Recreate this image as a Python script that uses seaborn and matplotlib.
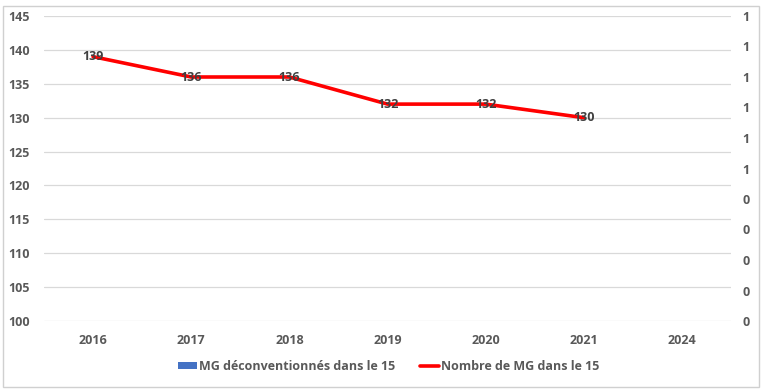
import matplotlib
matplotlib.use("Agg")
import matplotlib.pyplot as plt
import seaborn as sns
import numpy as np
from matplotlib.patches import Rectangle, Patch
from matplotlib.lines import Line2D

years = ["2016", "2017", "2018", "2019", "2020", "2021", "2024"]
nombre_mg = [139, 136, 136, 132, 132, 130]
deconv_mg = [0, 0, 0, 0, 0, 0, 0]
left_ticks = [100, 105, 110, 115, 120, 125, 130, 135, 140, 145]
right_ticks = [0.0, 0.1, 0.2, 0.3, 0.4, 0.5, 0.6, 0.7, 0.8, 0.9, 1.0]
right_labels = ["0", "0", "0", "0", "0", "1", "1", "1", "1", "1", "1"]
label_bar = "MG déconventionnés dans le 15"
label_line = "Nombre de MG dans le 15"

sns.set_theme(style="white")
plt.rcParams['font.family'] = ['Open Sans', 'DejaVu Sans']

txt = "#595959"
fs = 9
fig = plt.figure(figsize=(7.65, 3.91), dpi=100)
ax = fig.add_axes([44/765, 1-321/391, (731-44)/765, (321-16)/391])
ax2 = ax.twinx()

sns.barplot(x=years, y=deconv_mg, ax=ax2, color="#4472C4", linewidth=0, width=0.6)
ax2.set_ylim(0, 1)
ax2.set_yticks(right_ticks)
ax2.set_yticklabels(right_labels)

sns.lineplot(x=np.arange(len(nombre_mg)), y=nombre_mg, ax=ax, color="#FF0000", linewidth=2.6)
ax.set_xlim(-0.5, len(years) - 0.5)
ax.set_ylim(100, 145)
ax.set_yticks(left_ticks)
ax.grid(axis="y", color="#D9D9D9", linewidth=0.9)
ax.set_axisbelow(True)
for i, v in enumerate(nombre_mg):
    ax.text(i, v, str(v), ha="center", va="center", fontsize=fs, fontweight="bold", color="#404040")

ax.set_zorder(ax2.get_zorder() + 1)
ax.patch.set_visible(False)

for a in (ax, ax2):
    for s in a.spines.values():
        s.set_visible(False)
    a.tick_params(length=0, labelsize=fs, colors=txt)
    a.set_xlabel("")
    a.set_ylabel("")
    for lab in a.get_xticklabels() + a.get_yticklabels():
        lab.set_fontweight("bold")
ax.set_xticks(range(len(years)))
ax.set_xticklabels(years, fontweight="bold")
ax.tick_params(axis="x", pad=9)
ax.tick_params(axis="y", pad=10)
ax2.tick_params(axis="y", pad=8)

handles = [Patch(facecolor="#4472C4", edgecolor="none"), Line2D([0], [0], color="#FF0000", linewidth=2.6)]
leg = fig.legend(handles, [label_bar, label_line], loc="center", bbox_to_anchor=(0.508, 1-366/391),
                 ncol=2, frameon=False, fontsize=fs, handlelength=1.5, handletextpad=0.15,
                 columnspacing=2.0, handleheight=0.5)
for t in leg.get_texts():
    t.set_color(txt)
    t.set_fontweight("bold")

fig.patches.append(Rectangle((3/765, 4/391), (759-3)/765, (388-7)/391, transform=fig.transFigure,
                             fill=False, edgecolor="#D0D0D0", linewidth=1))
fig.savefig("out.png", dpi=100)
